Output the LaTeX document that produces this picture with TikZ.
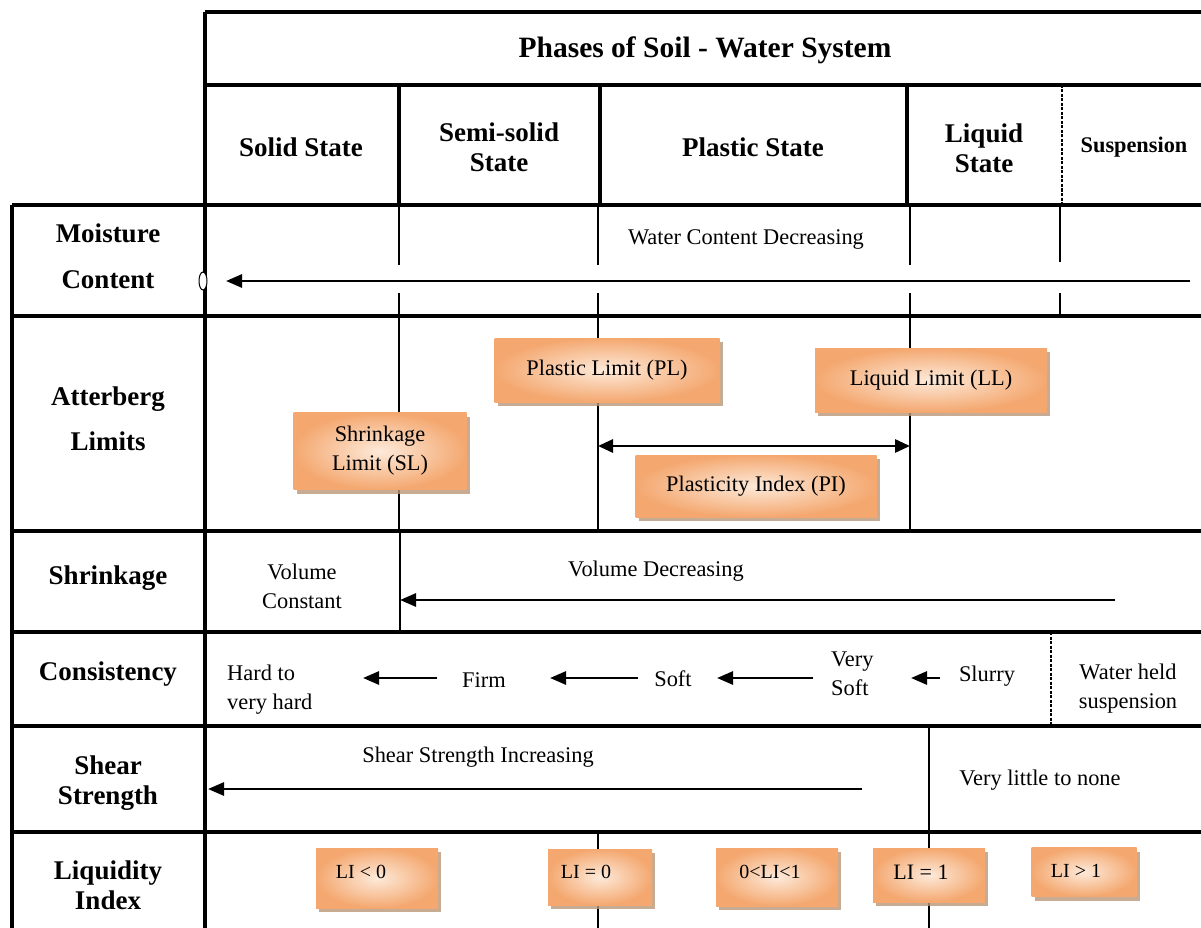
\documentclass[tikz,border=0pt]{standalone}
\usepackage{fontspec}
\setmainfont{Liberation Serif}
\usetikzlibrary{arrows.meta,shadows,shapes.geometric}
\definecolor{boxor}{RGB}{244,168,112}
\definecolor{boxlt}{RGB}{253,234,218}
\definecolor{shad}{RGB}{185,150,120}
\tikzset{
  hd/.style={font=\bfseries\fontsize{27}{30}\selectfont, align=center, inner sep=0pt},
  tx/.style={font=\fontsize{22.4}{29}\selectfont, align=center, inner sep=0pt},
  bx/.style={font=\fontsize{20}{28}\selectfont, inner sep=0pt},
  obox/.style={draw=none, shading=radial, inner color=boxlt, outer color=boxor,
    drop shadow={shadow xshift=3pt, shadow yshift=-4pt, fill=shad, opacity=0.8},
    font=\fontsize{22.3}{29}\selectfont, align=center, inner sep=0pt},
  bord/.style={line width=3.6pt},
  inl/.style={line width=2.4pt},
  thn/.style={line width=1.4pt},
  dsh/.style={line width=1.6pt, dash pattern=on 3pt off 1.5pt},
  arr/.style={line width=2.8pt, -{Triangle[length=16pt,width=13pt]}},
  darr/.style={line width=2.8pt, {Triangle[length=15pt,width=13pt]}-{Triangle[length=15pt,width=13pt]}},
}
\begin{document}
\begin{tikzpicture}[x=1pt,y=-1pt]
\useasboundingbox (0,0) rectangle (1201,928);
% ---------- grid ----------
\draw[bord] (205,12) -- (1201,12);
\draw[bord] (205,85) -- (1201,85);
\draw[bord] (12,205) -- (1201,205);
\foreach \yy in {316,531,632,726,832} \draw[bord] (12,\yy) -- (1201,\yy);
\draw[bord] (12,205) -- (12,928);
\draw[bord] (205,12) -- (205,928);
% header columns
\foreach \xx in {399,600,907} \draw[bord] (\xx,85) -- (\xx,205);
\draw[dsh] (1062,85) -- (1062,205);
% moisture row
\foreach \xx in {399,598,910} {\draw[inl] (\xx,205) -- (\xx,265); \draw[inl] (\xx,293) -- (\xx,316);}
\draw[thn] (1060,205) -- (1060,262); \draw[thn] (1060,293) -- (1060,316);
% atterberg row
\foreach \xx in {399,598,910} \draw[inl] (\xx,316) -- (\xx,531);
% shrinkage row
\draw[thn] (400,531) -- (400,632);
% consistency row
\draw[dsh] (1051,632) -- (1051,726);
% shear row
\draw[thn] (929,726) -- (929,832);
% liquidity row
\draw[inl] (598,832) -- (598,928);
\draw[inl] (929,832) -- (929,928);
% ---------- header texts ----------
\node[hd, font=\bfseries\fontsize{29.5}{30}\selectfont] (title) at (705,50) {Phases of Soil - Water System};
\node[hd] (solid) at (301,147) {Solid State};
\node[hd] (semi) at (499,147) {Semi-solid\\State};
\node[hd] (plast) at (753,147) {Plastic State};
\node[hd] (liq) at (984,148) {Liquid\\State};
\node[hd, font=\bfseries\fontsize{22.3}{24}\selectfont] (susp) at (1134,147) {Suspension};
% row labels
\node[hd, font=\bfseries\fontsize{27}{46}\selectfont] (rmc) at (108,256) {Moisture\\Content};
\node[hd, font=\bfseries\fontsize{27}{45}\selectfont] (ral) at (108,419) {Atterberg\\Limits};
\node[hd] (rsh) at (108,578) {Shrinkage};
\node[hd] (rco) at (108,674) {Consistency};
\node[hd] (rss) at (108,783) {Shear\\Strength};
\node[hd] (rli) at (108,885) {Liquidity\\Index};
% ---------- moisture content ----------
\node[tx] (wcd) at (746,240) {Water Content Decreasing};
\coordinate (mcR) at (1190,281);
\coordinate (mcL) at (226,281);
\draw[arr] (mcR) -- (mcL);
\node[draw, fill=white, line width=1pt, ellipse, minimum width=8pt, minimum height=18pt, inner sep=0pt] (oval) at (203,281) {};
% ---------- atterberg ----------
\node[obox, minimum width=225pt, minimum height=64pt] (pl) at (607,370) {Plastic Limit (PL)};
\node[obox, minimum width=232pt, minimum height=64pt] (ll) at (931,380) {Liquid Limit (LL)};
\node[obox, minimum width=173pt, minimum height=77pt] (sl) at (380,451) {Shrinkage\\Limit (SL)};
\coordinate (piL) at (598,446);
\coordinate (piR) at (910,446);
\draw[darr] (piL) -- (piR);
\node[obox, minimum width=241pt, minimum height=62pt] (pi) at (756,486) {Plasticity Index (PI)};
% ---------- shrinkage ----------
\node[tx] (vc) at (302,586) {Volume\\Constant};
\node[tx] (vd) at (656,571) {Volume Decreasing};
\coordinate (shR) at (1115,600);
\coordinate (shL) at (400,600);
\draw[arr] (shR) -- (shL);
% ---------- consistency ----------
\node[tx, align=left, anchor=west] (hard) at (227,690) {Hard to\\very hard};
\node[tx] (firm) at (484,680) {Firm};
\node[tx] (soft) at (673,679) {Soft};
\node[tx, align=left, anchor=west] (vsoft) at (831,674) {Very\\Soft};
\node[tx] (slurry) at (987,676) {Slurry};
\node[tx] (whs) at (1128,689) {Water held\\suspension};
\coordinate (c1R) at (437,678); \coordinate (c1L) at (363,678);
\coordinate (c2R) at (638,678); \coordinate (c2L) at (550,678);
\coordinate (c3R) at (813,678); \coordinate (c3L) at (717,678);
\coordinate (c4R) at (940,678); \coordinate (c4L) at (911,678);
\draw[arr] (c1R) -- (c1L);
\draw[arr] (c2R) -- (c2L);
\draw[arr] (c3R) -- (c3L);
\draw[arr] (c4R) -- (c4L);
% ---------- shear strength ----------
\node[tx] (ssi) at (478,757) {Shear Strength Increasing};
\node[tx] (vltn) at (1040,780) {Very little to none};
\coordinate (ssR) at (862,789);
\coordinate (ssL) at (208,789);
\draw[arr] (ssR) -- (ssL);
% ---------- liquidity index ----------
\node[obox, minimum width=122pt, minimum height=60pt] (li0) at (377,878) {};
\node[bx] (li0t) at (361,872) {LI < 0};
\node[obox, minimum width=104pt, minimum height=56pt] (lie0) at (600,877) {};
\node[bx] (lie0t) at (586,872) {LI = 0};
\node[obox, minimum width=122pt, minimum height=58pt] (lib) at (777,877) {};
\node[bx] (libt) at (770,872) {0<LI<1};
\node[obox, minimum width=112pt, minimum height=54pt] (lie1) at (929,875) {};
\node[bx, font=\fontsize{22}{28}\selectfont] (lie1t) at (921,872) {LI = 1};
\node[obox, minimum width=105pt, minimum height=49pt] (lig1) at (1084,872) {};
\node[bx] (lig1t) at (1076,871) {LI > 1};
\end{tikzpicture}
\end{document}
